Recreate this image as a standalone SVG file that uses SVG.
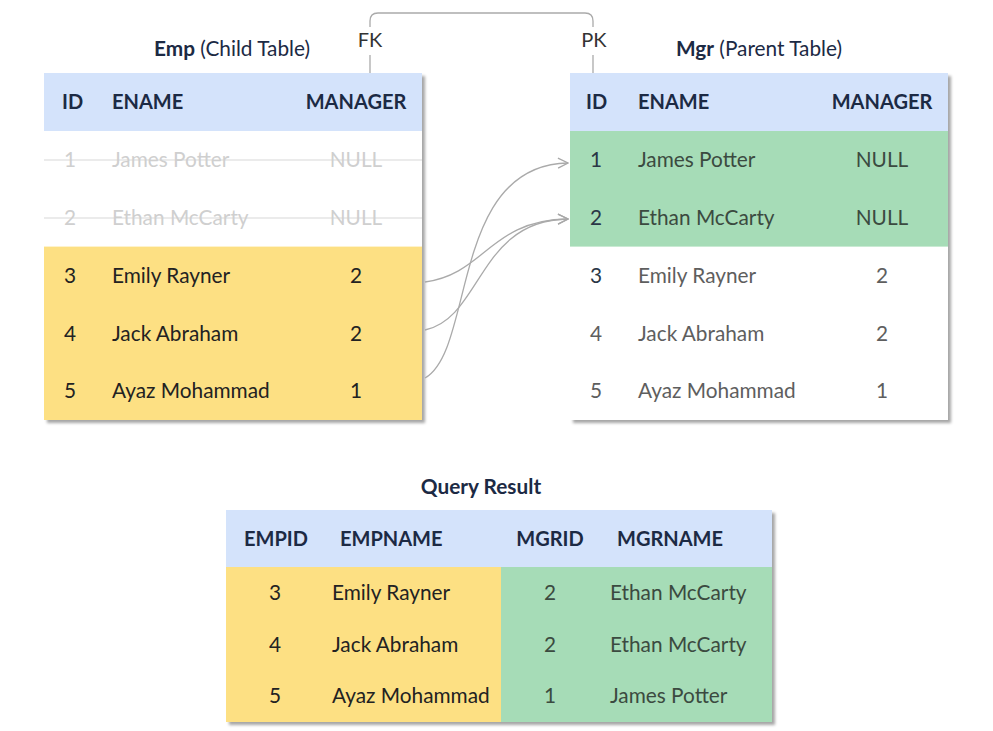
<svg xmlns="http://www.w3.org/2000/svg" width="993" height="731" viewBox="0 0 993 731">
  <defs>
    <filter id="shadow" x="-5%" y="-5%" width="115%" height="115%">
      <feDropShadow dx="3" dy="3" stdDeviation="1.5" flood-color="#000" flood-opacity="0.35"/>
    </filter>
    <marker id="arrow" viewBox="0 0 12 12" refX="11" refY="6" markerWidth="12" markerHeight="12" markerUnits="userSpaceOnUse" orient="auto">
      <path d="M1,1 L11,6 L1,11" fill="none" stroke="#a8a8a8" stroke-width="1.3"/>
    </marker>
  </defs>
  <style>
    text { font-family: Lato, "Liberation Sans", sans-serif; font-size: 20.8px; }
    .hdr { font-weight: bold; font-size: 20px; fill: #1c2a44; }
    .title { font-size: 20.8px; fill: #1c2a44; }
    .b { font-weight: bold; }
    .cell { fill: #222; }
    .faded { fill: #cfcfcf; }
    .grey { fill: #5e5e5e; }
    .idn { fill: #2a3646; }
    .gtxt { fill: #3b4a40; }
    .mid { text-anchor: middle; }
    .key { font-size: 20px; fill: #333; text-anchor: middle; }
    .blue { fill: #d4e3fb; }
    .yellow { fill: #fde083; }
    .green { fill: #a6dcb7; }
    .link { fill: none; stroke: #aaaaaa; stroke-width: 1.3; }
    .strike { stroke: #d8d8d8; stroke-width: 1.1; }
  </style>

  <rect width="993" height="731" fill="#ffffff"/>

  <!-- Emp (child) table -->
  <g id="emp-table">
    <text class="title mid" x="232" y="56"><tspan class="b">Emp</tspan> (Child Table)</text>
    <rect x="44" y="73" width="378" height="347" fill="#ffffff" filter="url(#shadow)"/>
    <rect class="blue" x="44" y="73" width="378" height="58"/>
    <rect class="yellow" x="44" y="246.6" width="378" height="173.4"/>
    <text class="hdr" x="62" y="109">ID</text>
    <text class="hdr" x="112" y="109">ENAME</text>
    <text class="hdr mid" x="356" y="109">MANAGER</text>

    <line class="strike" x1="44" y1="160" x2="422" y2="160"/>
    <line class="strike" x1="44" y1="218" x2="422" y2="218"/>
    <text class="faded mid" x="70" y="167">1</text>
    <text class="faded" x="112" y="167">James Potter</text>
    <text class="faded mid" x="356" y="167">NULL</text>
    <text class="faded mid" x="70" y="225">2</text>
    <text class="faded" x="112" y="225">Ethan McCarty</text>
    <text class="faded mid" x="356" y="225">NULL</text>

    <text class="cell mid" x="70" y="283">3</text>
    <text class="cell" x="112" y="283">Emily Rayner</text>
    <text class="cell mid" x="356" y="283">2</text>
    <text class="cell mid" x="70" y="341">4</text>
    <text class="cell" x="112" y="341">Jack Abraham</text>
    <text class="cell mid" x="356" y="341">2</text>
    <text class="cell mid" x="70" y="398">5</text>
    <text class="cell" x="112" y="398">Ayaz Mohammad</text>
    <text class="cell mid" x="356" y="398">1</text>
  </g>

  <!-- Mgr (parent) table -->
  <g id="mgr-table">
    <text class="title mid" x="759" y="56"><tspan class="b">Mgr</tspan> (Parent Table)</text>
    <rect x="570" y="73" width="378" height="347" fill="#ffffff" filter="url(#shadow)"/>
    <rect class="blue" x="570" y="73" width="378" height="58"/>
    <rect class="green" x="570" y="131" width="378" height="115.6"/>
    <text class="hdr" x="586" y="109">ID</text>
    <text class="hdr" x="638" y="109">ENAME</text>
    <text class="hdr mid" x="882" y="109">MANAGER</text>

    <text class="idn mid" x="596" y="167">1</text>
    <text class="gtxt" x="638" y="167">James Potter</text>
    <text class="gtxt mid" x="882" y="167">NULL</text>
    <text class="idn mid" x="596" y="225">2</text>
    <text class="gtxt" x="638" y="225">Ethan McCarty</text>
    <text class="gtxt mid" x="882" y="225">NULL</text>

    <text class="idn mid" x="596" y="283">3</text>
    <text class="grey" x="638" y="283">Emily Rayner</text>
    <text class="grey mid" x="882" y="283">2</text>
    <text class="grey mid" x="596" y="341">4</text>
    <text class="grey" x="638" y="341">Jack Abraham</text>
    <text class="grey mid" x="882" y="341">2</text>
    <text class="grey mid" x="596" y="398">5</text>
    <text class="grey" x="638" y="398">Ayaz Mohammad</text>
    <text class="grey mid" x="882" y="398">1</text>
  </g>

  <!-- Query result table -->
  <g id="query-result">
    <text class="title b mid" x="481" y="494">Query Result</text>
    <rect x="226" y="510" width="546" height="212" fill="#ffffff" filter="url(#shadow)"/>
    <rect class="blue" x="226" y="510" width="546" height="57"/>
    <rect class="yellow" x="226" y="567" width="275" height="155"/>
    <rect class="green" x="501" y="567" width="271" height="155"/>
    <text class="hdr" x="244" y="546">EMPID</text>
    <text class="hdr" x="340" y="546">EMPNAME</text>
    <text class="hdr mid" x="550" y="546">MGRID</text>
    <text class="hdr" x="617" y="546">MGRNAME</text>

    <text class="cell mid" x="275" y="600">3</text>
    <text class="cell" x="332" y="600">Emily Rayner</text>
    <text class="gtxt mid" x="550" y="600">2</text>
    <text class="gtxt" x="610" y="600">Ethan McCarty</text>
    <text class="cell mid" x="275" y="652">4</text>
    <text class="cell" x="332" y="652">Jack Abraham</text>
    <text class="gtxt mid" x="550" y="652">2</text>
    <text class="gtxt" x="610" y="652">Ethan McCarty</text>
    <text class="cell mid" x="275" y="703">5</text>
    <text class="cell" x="332" y="703">Ayaz Mohammad</text>
    <text class="gtxt mid" x="550" y="703">1</text>
    <text class="gtxt" x="610" y="703">James Potter</text>
  </g>

  <!-- FK / PK key link and row references -->
  <g id="connectors">
    <text class="key" x="370" y="47">FK</text>
    <text class="key" x="594" y="47">PK</text>
    <path class="link" d="M370,27 V21 Q370,13 378,13 H585 Q593,13 593,21 V27"/>
    <line class="link" x1="370" y1="55" x2="370" y2="73"/>
    <line class="link" x1="593" y1="55" x2="593" y2="73"/>

    <path class="link" d="M425,282 C485,274 490,220 568,219" marker-end="url(#arrow)"/>
    <path class="link" d="M425,330 C482,318 478,220 568,219" marker-end="url(#arrow)"/>
    <path class="link" d="M425,378 C475,350 450,165 568,163" marker-end="url(#arrow)"/>
  </g>
</svg>
